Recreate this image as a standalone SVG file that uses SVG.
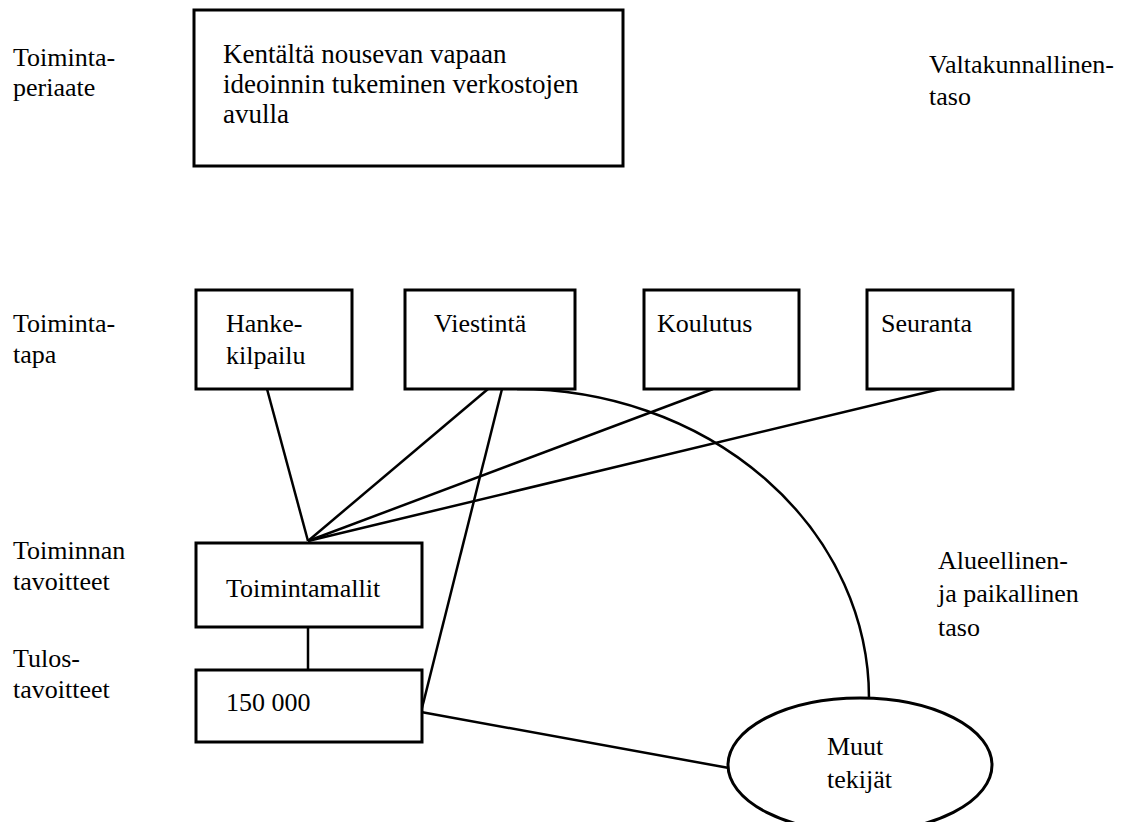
<svg xmlns="http://www.w3.org/2000/svg" width="1130" height="822" viewBox="0 0 1130 822">
<style>
text{font-family:"Liberation Serif","Times New Roman",serif;font-size:26px;fill:#000}
.big{font-size:27px}
.box{fill:#fff;stroke:#000;stroke-width:3}
.ln{fill:none;stroke:#000;stroke-width:2.5}
</style>
<rect width="1130" height="822" fill="#fff"/>
<g id="labels">
<text x="13" y="66">Toiminta-</text><text x="13" y="96">periaate</text>
<text x="13" y="332">Toiminta-</text><text x="13" y="363">tapa</text>
<text x="13" y="559">Toiminnan</text><text x="13" y="590">tavoitteet</text>
<text x="13" y="667">Tulos-</text><text x="13" y="698">tavoitteet</text>
<text x="929" y="73">Valtakunnallinen-</text><text x="929" y="105">taso</text>
<text x="938" y="569">Alueellinen-</text><text x="938" y="602">ja paikallinen</text><text x="938" y="636">taso</text>
</g>
<g id="connectors">
<line class="ln" x1="267" y1="389" x2="308" y2="541"/>
<line class="ln" x1="488" y1="389" x2="308" y2="541"/>
<line class="ln" x1="713" y1="389" x2="308" y2="541"/>
<line class="ln" x1="940" y1="389" x2="308" y2="541"/>
<line class="ln" x1="502" y1="389" x2="421" y2="712"/>
<line class="ln" x1="308" y1="627" x2="308" y2="670"/>
<line class="ln" x1="421" y1="712" x2="729" y2="768"/>
<path class="ln" d="M517,389 A352,309 0 0 1 869,698"/>
</g>
<g id="periaate"><rect class="box" x="194" y="10" width="429" height="156"/>
<text class="big" x="223" y="63">Kentältä nousevan vapaan</text><text class="big" x="223" y="93">ideoinnin tukeminen verkostojen</text><text class="big" x="223" y="123">avulla</text></g>
<g id="hankekilpailu"><rect class="box" x="196" y="290" width="156" height="99"/><text x="226" y="332">Hanke-</text><text x="226" y="364">kilpailu</text></g>
<g id="viestinta"><rect class="box" x="405" y="290" width="170" height="99"/><text x="434" y="332">Viestintä</text></g>
<g id="koulutus"><rect class="box" x="644" y="290" width="155" height="99"/><text x="657" y="332">Koulutus</text></g>
<g id="seuranta"><rect class="box" x="867" y="290" width="146" height="99"/><text x="881" y="332">Seuranta</text></g>
<g id="toimintamallit"><rect class="box" x="196" y="543" width="226" height="84"/><text x="226" y="597">Toimintamallit</text></g>
<g id="tulos"><rect class="box" x="196" y="670" width="226" height="72"/><text x="226" y="711">150 000</text></g>
<g id="muut"><ellipse class="box" cx="860" cy="765" rx="132" ry="67"/><text x="827" y="755">Muut</text><text x="827" y="788">tekijät</text></g>
</svg>
